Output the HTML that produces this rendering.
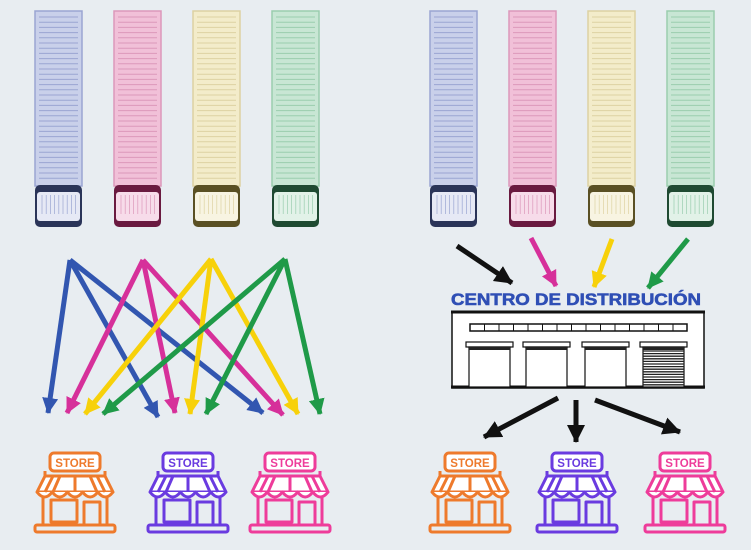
<!DOCTYPE html>
<html><head><meta charset="utf-8"><style>
html,body{margin:0;padding:0;background:#e8edf1;}
svg{display:block}
</style></head><body>
<svg id="s" width="751" height="550" viewBox="0 0 751 550" xmlns="http://www.w3.org/2000/svg" font-family="Liberation Sans, sans-serif">
<defs>
<marker id="hb" markerUnits="userSpaceOnUse" markerWidth="18" markerHeight="18" refX="15" refY="8" orient="auto"><path d="M0,0 L16,8 L0,16 Z" fill="#3256b0"/></marker>
<marker id="hp" markerUnits="userSpaceOnUse" markerWidth="18" markerHeight="18" refX="15" refY="8" orient="auto"><path d="M0,0 L16,8 L0,16 Z" fill="#d6309a"/></marker>
<marker id="hy" markerUnits="userSpaceOnUse" markerWidth="18" markerHeight="18" refX="15" refY="8" orient="auto"><path d="M0,0 L16,8 L0,16 Z" fill="#f7d10a"/></marker>
<marker id="hg" markerUnits="userSpaceOnUse" markerWidth="18" markerHeight="18" refX="15" refY="8" orient="auto"><path d="M0,0 L16,8 L0,16 Z" fill="#1f9a48"/></marker>
<marker id="hk" markerUnits="userSpaceOnUse" markerWidth="20" markerHeight="20" refX="17" refY="9" orient="auto"><path d="M0,0 L18,9 L0,18 Z" fill="#111"/></marker>
</defs>
<g id="trucks"></g>
<g stroke-width="5" fill="none">
<g stroke="#3256b0" marker-end="url(#hb)"><line x1="70" y1="260" x2="48" y2="413"/><line x1="70" y1="260" x2="158" y2="417"/><line x1="70" y1="260" x2="263" y2="413"/></g>
<g stroke="#d6309a" marker-end="url(#hp)"><line x1="143" y1="260" x2="67" y2="413"/><line x1="143" y1="260" x2="175" y2="413"/><line x1="143" y1="260" x2="283" y2="415"/></g>
<g stroke="#f7d10a" marker-end="url(#hy)"><line x1="211" y1="259" x2="85" y2="414"/><line x1="211" y1="259" x2="190" y2="414"/><line x1="211" y1="259" x2="298" y2="414"/></g>
<g stroke="#1f9a48" marker-end="url(#hg)"><line x1="285" y1="259" x2="103" y2="414"/><line x1="285" y1="259" x2="206" y2="414"/><line x1="285" y1="259" x2="320" y2="414"/></g>
</g>
<g stroke-width="5" fill="none">
<line x1="457" y1="246" x2="512" y2="283" stroke="#111" marker-end="url(#hk)"/>
<line x1="531" y1="238" x2="556" y2="286" stroke="#d6309a" marker-end="url(#hp)"/>
<line x1="612" y1="239" x2="594" y2="287" stroke="#f7d10a" marker-end="url(#hy)"/>
<line x1="688" y1="239" x2="648" y2="288" stroke="#1f9a48" marker-end="url(#hg)"/>
<line x1="558" y1="398" x2="484" y2="437" stroke="#111" marker-end="url(#hk)"/>
<line x1="576" y1="400" x2="576" y2="442" stroke="#111" marker-end="url(#hk)"/>
<line x1="595" y1="400" x2="680" y2="432" stroke="#111" marker-end="url(#hk)"/>
</g>
<text x="576" y="305" text-anchor="middle" font-size="17" font-weight="bold" fill="#2f4fb5" stroke="#2f4fb5" stroke-width="0.6" textLength="250" lengthAdjust="spacingAndGlyphs">CENTRO DE DISTRIBUCIÓN</text>
<g stroke="#111" stroke-width="1.5" fill="#fff">
<rect x="452" y="312" width="252" height="76"/>
<line x1="451" y1="312" x2="705" y2="312" stroke-width="3"/>
<line x1="451" y1="387" x2="705" y2="387" stroke-width="3"/>
<rect x="470" y="324" width="217" height="7"/>
</g>
<g id="win" stroke="#111" stroke-width="1"></g>
<g id="doors"></g>
<g id="stores"></g>
</svg>
<script>
var NS="http://www.w3.org/2000/svg";
function el(p,t,a,txt){var e=document.createElementNS(NS,t);for(var k in a)e.setAttribute(k,a[k]);if(txt)e.textContent=txt;p.appendChild(e);return e;}
var tg=document.getElementById('trucks');
var cols=[["#c9d0ea","#9aa5d2","#2a3458","#e6e9f5"],["#f1c0d8","#dc98ba","#6a1a40","#f7dcea"],["#f3ecca","#ddd2a2","#5a5024","#f8f4e2"],["#c8e6d4","#9acdae","#1f4a32","#e2f2e8"]];
var xs=[35,114,193,272,430,509,588,667];
xs.forEach(function(x,i){var c=cols[i%4];
 el(tg,'rect',{x:x,y:11,width:47,height:175,fill:c[0],stroke:c[1],'stroke-width':1.5});
 for(var y=17;y<183;y+=5.2)el(tg,'line',{x1:x+4,y1:y,x2:x+43,y2:y,stroke:c[1],'stroke-width':1});
 el(tg,'rect',{x:x,y:185,width:47,height:42,rx:5,fill:c[2]});
 el(tg,'rect',{x:x+2,y:192,width:43,height:29,rx:3,fill:c[3]});
 for(var k=0;k<9;k++)el(tg,'line',{x1:x+7+k*4.2,y1:195,x2:x+7+k*4.2,y2:214,stroke:c[1],'stroke-width':0.7});
});
var w=document.getElementById('win');
for(var i=1;i<15;i++)el(w,'line',{x1:470+i*14.5,y1:324,x2:470+i*14.5,y2:331});
var d=document.getElementById('doors');
[466,523,582,640].forEach(function(x,i){
 el(d,'rect',{x:x,y:342,width:47,height:5,fill:'#fff',stroke:'#111','stroke-width':1.2});
 el(d,'rect',{x:x+3,y:347,width:41,height:40,fill:'#fff',stroke:'#111','stroke-width':1.2});
 el(d,'rect',{x:x+3,y:347,width:41,height:3,fill:'#222'});
 if(i==3)for(var y=351;y<387;y+=2.6)el(d,'line',{x1:x+3,y1:y,x2:x+44,y2:y,stroke:'#222','stroke-width':1.3});
});
var sg=document.getElementById('stores');
[[75,'#ee7a2c'],[188,'#6a3be0'],[290,'#ee3c9a'],[470,'#ee7a2c'],[577,'#6a3be0'],[685,'#ee3c9a']].forEach(function(s){
 var g=el(sg,'g',{transform:'translate('+s[0]+',450)',fill:'none',stroke:s[1],'stroke-width':3,'stroke-linejoin':'round'});
 el(g,'rect',{x:-25,y:3,width:50,height:18,rx:4,fill:'#fff'});
 el(g,'text',{x:0,y:17,'text-anchor':'middle','font-size':11.5,'font-weight':'bold',fill:s[1],stroke:'none'},'STORE');
 el(g,'path',{d:'M-30,21 V26 M30,21 V26'});
 el(g,'path',{d:'M-30,26 H30 L38,42 H-38 Z',fill:'#fff'});
 el(g,'path',{d:'M-38,42 q7.6,10 15.2,0 q7.6,10 15.2,0 q7.6,10 15.2,0 q7.6,10 15.2,0 q7.6,10 15.2,0',fill:'#fff'});
 el(g,'path',{d:'M-15,26 L-22,42 M0,26 V42 M15,26 L22,42 M-22,26 L-30,42 M22,26 L30,42'});
 el(g,'path',{d:'M-32,47 V75 M32,47 V75'});
 el(g,'rect',{x:-24,y:50,width:26,height:22});
 el(g,'rect',{x:9,y:52,width:16,height:23});
 el(g,'rect',{x:-40,y:75,width:80,height:7,rx:2});
});
</script>
</body></html>
